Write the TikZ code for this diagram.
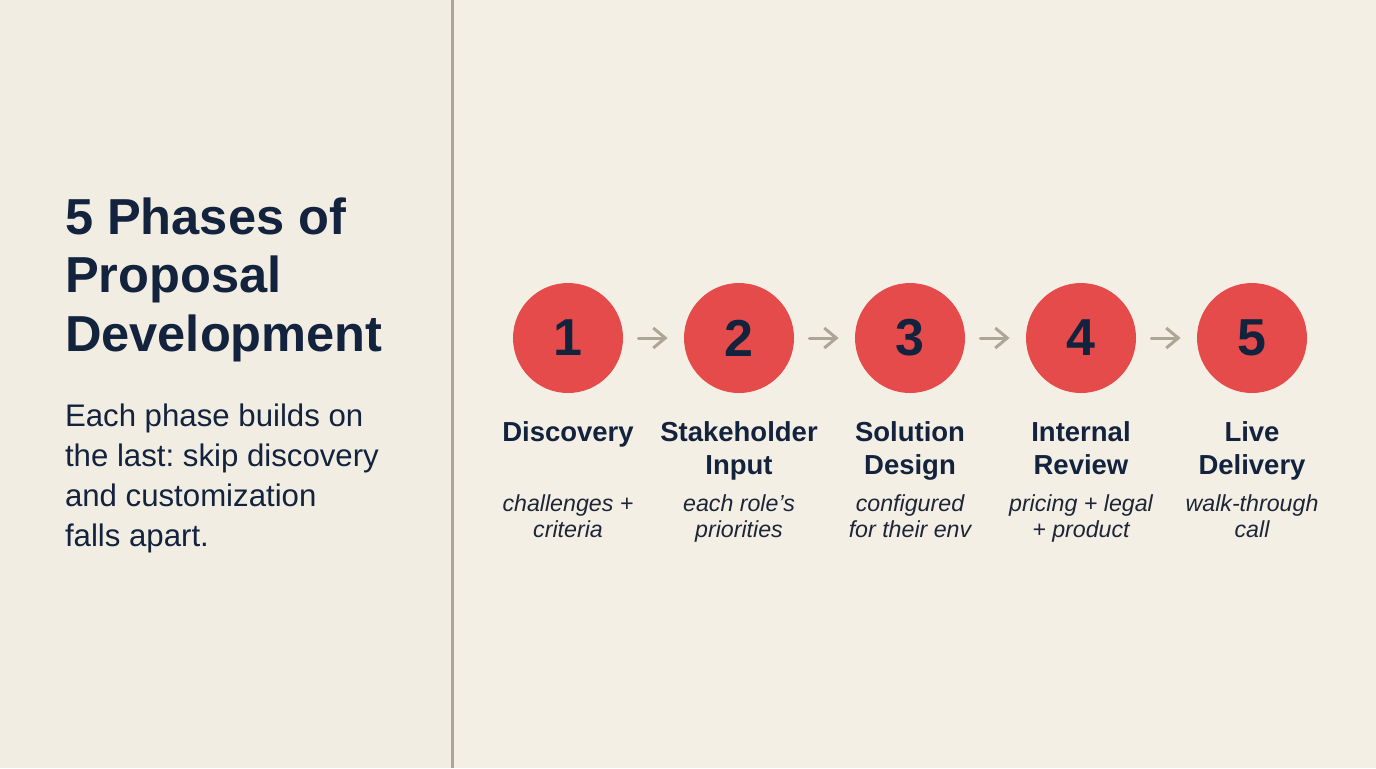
\documentclass[tikz,border=0pt]{standalone}
\usepackage{fontspec}
\setmainfont{Liberation Sans}
\usetikzlibrary{arrows.meta}
\definecolor{bgL}{HTML}{F2EDE2}
\definecolor{bgR}{HTML}{F4EFE5}
\definecolor{navy}{HTML}{13233D}
\definecolor{subc}{HTML}{1D2536}
\definecolor{redc}{HTML}{E64B4B}
\definecolor{divc}{HTML}{ADA597}
\definecolor{arrc}{HTML}{ADA696}
\frenchspacing
\begin{document}
\begin{tikzpicture}[x=0.5pt,y=-0.5pt,
  txt/.style={inner sep=0pt, outer sep=0pt, text=navy},
  titletxt/.style={txt, anchor=base west, font=\fontsize{25.3pt}{30pt}\selectfont\bfseries},
  bodytxt/.style={txt, anchor=base west, font=\fontsize{15.6pt}{20pt}\selectfont},
  phasecircle/.style={circle, fill=redc, minimum size=55pt, inner sep=0pt, text=navy,
    font=\fontsize{26pt}{30pt}\selectfont\bfseries},
  phasename/.style={txt, anchor=base, font=\fontsize{13.75pt}{16pt}\selectfont\bfseries},
  phasenote/.style={txt, anchor=base, text=subc, font=\fontsize{11.6pt}{14pt}\selectfont\itshape},
  flow/.style={draw=arrc, line width=1.5pt, line cap=round,
    -{Straight Barb[length=6pt,width=10pt,line width=1.5pt]},
    shorten <=7.5pt, shorten >=8pt},
  divider/.style={draw=divc, line width=1.5pt}
]
\fill[bgL] (0,0) rectangle (452,768);
\fill[bgR] (452,0) rectangle (1376,768);
\useasboundingbox (0,0) rectangle (1376,768);

\coordinate (dtop) at (452,0);
\coordinate (dbot) at (452,768);
\draw[divider] (dtop) -- (dbot);

% title
\node[titletxt] (t1) at (65,234) {5 Phases of};
\node[titletxt] (t2) at (65,292) {Proposal};
\node[titletxt] (t3) at (65,351) {Development};

% body
\node[bodytxt] (b1) at (65,426) {Each phase builds on};
\node[bodytxt] (b2) at (65,466) {the last: skip discovery};
\node[bodytxt] (b3) at (65,506) {and customization};
\node[bodytxt] (b4) at (65,546) {falls apart.};

% circles
\node[phasecircle] (c1) at (568,338) {1};
\node[phasecircle] (c2) at (739,338) {2};
\node[phasecircle] (c3) at (910,338) {3};
\node[phasecircle] (c4) at (1081,338) {4};
\node[phasecircle] (c5) at (1252,338) {5};

\draw[flow] (c1) -- (c2);
\draw[flow] (c2) -- (c3);
\draw[flow] (c3) -- (c4);
\draw[flow] (c4) -- (c5);

% names
\node[phasename] (n1a) at (568,441) {Discovery};
\node[phasename] (n2a) at (739,441) {Stakeholder};
\node[phasename] (n2b) at (739,474) {Input};
\node[phasename] (n3a) at (910,441) {Solution};
\node[phasename] (n3b) at (910,474) {Design};
\node[phasename] (n4a) at (1081,441) {Internal};
\node[phasename] (n4b) at (1081,474) {Review};
\node[phasename] (n5a) at (1252,441) {Live};
\node[phasename] (n5b) at (1252,474) {Delivery};

% notes
\node[phasenote] (d1a) at (568,511) {challenges +};
\node[phasenote] (d1b) at (568,537) {criteria};
\node[phasenote] (d2a) at (739,511) {each role’s};
\node[phasenote] (d2b) at (739,537) {priorities};
\node[phasenote] (d3a) at (910,511) {configured};
\node[phasenote] (d3b) at (910,537) {for their env};
\node[phasenote] (d4a) at (1081,511) {pricing + legal};
\node[phasenote] (d4b) at (1081,537) {+ product};
\node[phasenote] (d5a) at (1252,511) {walk-through};
\node[phasenote] (d5b) at (1252,537) {call};
\end{tikzpicture}
\end{document}
